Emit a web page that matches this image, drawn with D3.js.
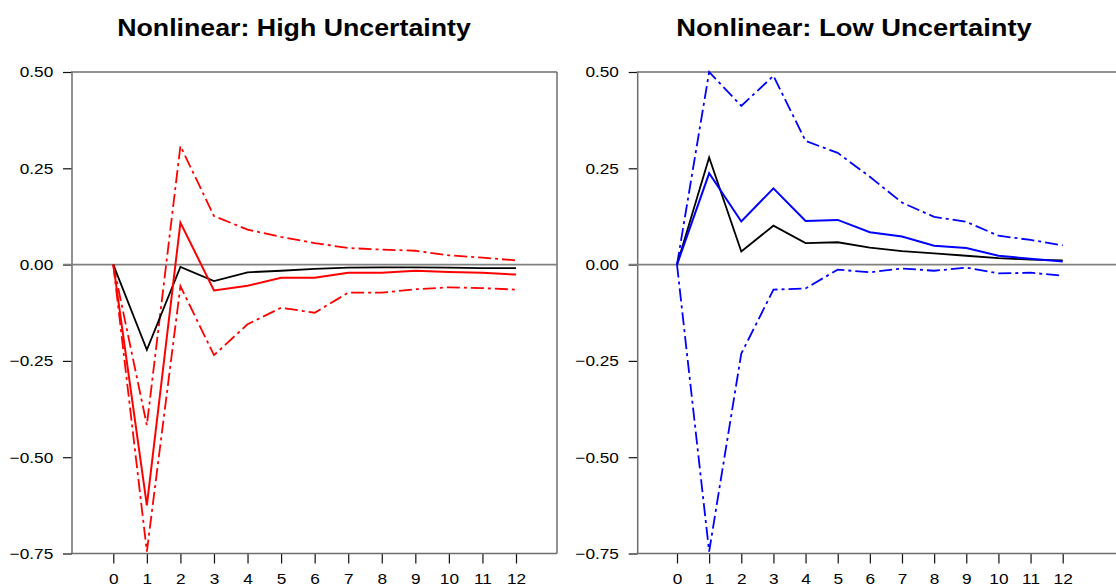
<!DOCTYPE html>
<html>
<head>
<meta charset="utf-8">
<script src="https://cdn.jsdelivr.net/npm/d3@7"></script>
<style>
  body { margin: 0; background: #fff; }
  svg { display: block; font-family: "Liberation Sans", Arial, sans-serif; }
</style>
</head>
<body>
<svg id="chart" width="1116" height="588"></svg>
<script>
// horizon (quarters)
var steps = [0, 1, 2, 3, 4, 5, 6, 7, 8, 9, 10, 11, 12];
var yTicks = [0.50, 0.25, 0.00, -0.25, -0.50, -0.75];

// high uncertainty panel
var highLinear = [0, -0.221, -0.006, -0.043, -0.020, -0.016, -0.011, -0.008, -0.007, -0.007, -0.008, -0.009, -0.009];
var highMean   = [0, -0.625, 0.109, -0.067, -0.055, -0.034, -0.034, -0.021, -0.021, -0.016, -0.019, -0.021, -0.026];
var highUpper  = [0, -0.417, 0.308, 0.126, 0.091, 0.072, 0.056, 0.043, 0.039, 0.036, 0.024, 0.018, 0.011];
var highLower  = [0, -0.745, -0.056, -0.235, -0.155, -0.112, -0.125, -0.073, -0.073, -0.064, -0.059, -0.061, -0.065];

// low uncertainty panel
var lowLinear = [0, 0.278, 0.034, 0.101, 0.056, 0.058, 0.044, 0.035, 0.029, 0.023, 0.017, 0.013, 0.011];
var lowMean   = [0, 0.237, 0.112, 0.198, 0.113, 0.116, 0.084, 0.073, 0.049, 0.043, 0.023, 0.015, 0.008];
var lowUpper  = [0, 0.500, 0.412, 0.490, 0.321, 0.290, 0.228, 0.161, 0.124, 0.111, 0.075, 0.064, 0.050];
var lowLower  = [0, -0.745, -0.231, -0.065, -0.062, -0.013, -0.020, -0.010, -0.016, -0.008, -0.023, -0.021, -0.029];

var svg = d3.select("#chart");

var panels = [
  { title: "Nonlinear: High Uncertainty", titleX: 294, titleScale: 1.115, left: 72, right: 557, first: 113.3, last: 516,
    color: "#ff0000", linear: highLinear, mean: highMean, upper: highUpper, lower: highLower, closed: true },
  { title: "Nonlinear: Low Uncertainty", titleX: 854, titleScale: 1.14, left: 637.7, right: 1122, first: 677, last: 1062.7,
    color: "#0000ff", linear: lowLinear, mean: lowMean, upper: lowUpper, lower: lowLower, closed: false }
];

var plotTop = 72, plotBottom = 553.5;
var stretch = "scale(1.15,1)"; // the original fonts are drawn a bit wide
var y = d3.scaleLinear().domain([0.5, -0.75]).range([plotTop, plotBottom]);
var frameColor = "#6e6e6e";

panels.forEach(function(p) {
  var x = d3.scaleLinear().domain([0, 12]).range([p.first, p.last]);
  var g = svg.append("g");

  g.append("text")
    .attr("text-anchor", "middle")
    .attr("transform", "translate(" + p.titleX + ",36) scale(" + p.titleScale + ",1)")
    .attr("font-size", 24)
    .attr("font-weight", "bold")
    .text(p.title);

  // y axis
  var yAxis = d3.axisLeft(y).tickValues(yTicks).tickSize(9).tickPadding(7.3)
    .tickFormat(d3.format(".2f"));
  var ya = g.append("g").attr("transform", "translate(" + p.left + ",0)").call(yAxis)
    .attr("font-size", 15).attr("font-family", "Liberation Sans, Arial, sans-serif");
  ya.select(".domain").remove();
  ya.selectAll("line").attr("stroke", "#111").attr("stroke-width", 1.2);
  ya.selectAll("text").attr("fill", "#000").attr("transform", stretch);

  // x axis
  var xAxis = d3.axisBottom(x).tickValues(steps).tickSize(10).tickPadding(10)
    .tickFormat(d3.format("d"));
  var xa = g.append("g").attr("transform", "translate(0," + plotBottom + ")").call(xAxis)
    .attr("font-size", 15).attr("font-family", "Liberation Sans, Arial, sans-serif");
  xa.select(".domain").remove();
  xa.selectAll("line").attr("stroke", "#111").attr("stroke-width", 1.2);
  xa.selectAll("text").attr("fill", "#000").attr("transform", stretch);

  // frame
  var frame = g.append("g").attr("fill", "none").attr("stroke", frameColor).attr("stroke-width", 1.5);
  frame.append("line").attr("x1", p.left).attr("x2", p.left).attr("y1", plotTop).attr("y2", plotBottom);
  frame.append("line").attr("x1", p.left - 1).attr("x2", p.right).attr("y1", plotTop).attr("y2", plotTop);
  frame.append("line").attr("x1", p.left - 1).attr("x2", p.right).attr("y1", plotBottom).attr("y2", plotBottom);
  if (p.closed) {
    frame.append("line").attr("x1", p.right).attr("x2", p.right).attr("y1", plotTop).attr("y2", plotBottom);
  }

  // zero line
  g.append("line")
    .attr("x1", p.left - 9).attr("x2", p.right)
    .attr("y1", y(0)).attr("y2", y(0))
    .attr("stroke", "#808080").attr("stroke-width", 1.6);

  var line = d3.line()
    .x(function(d, i) { return x(steps[i]); })
    .y(function(d) { return y(d); });

  function draw(values, color, dash, width) {
    g.append("path")
      .datum(values)
      .attr("fill", "none")
      .attr("stroke", color)
      .attr("stroke-width", width)
      .attr("stroke-linejoin", "miter")
      .attr("stroke-dasharray", dash)
      .attr("d", line);
  }

  draw(p.upper, p.color, "13,4,3,4", 1.8);
  draw(p.lower, p.color, "13,4,3,4", 1.8);
  draw(p.linear, "#000", null, 1.8);
  draw(p.mean, p.color, null, 2);
});
</script>
</body>
</html>
